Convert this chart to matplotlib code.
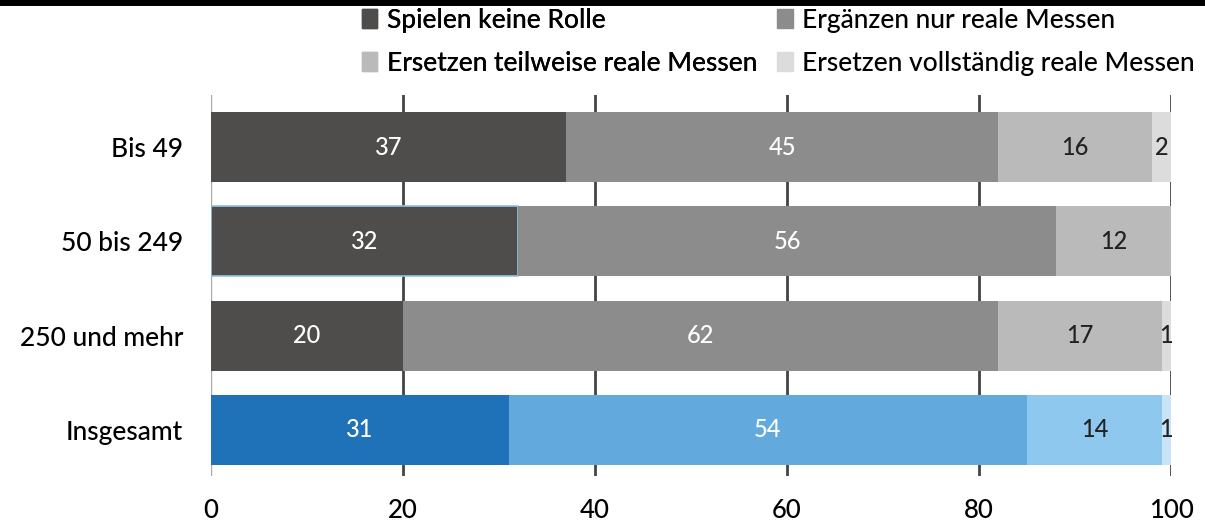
import numpy as np
import matplotlib.pyplot as plt
from matplotlib.patches import Patch

plt.rcParams['font.family'] = ['Lato', 'DejaVu Sans']

groups = ["Bis 49", "50 bis 249", "250 und mehr", "Insgesamt"]
series = ["Spielen keine Rolle", "Ergänzen nur reale Messen",
          "Ersetzen teilweise reale Messen", "Ersetzen vollständig reale Messen"]
keine_rolle = [37, 32, 20, 31]
ergaenzen = [45, 56, 62, 54]
teilweise = [16, 12, 17, 14]
vollstaendig = [2, 0, 1, 1]

grey_colors = ["#4f4c4c", "#8c8c8c", "#bababa", "#dcdcdc"]
blue_colors = ["#1f72b8", "#62aadd", "#8fc8ee", "#c8e4f6"]
text_colors = ["white", "white", "#222222", "#222222"]

fig = plt.figure(figsize=(12.05, 5.29), dpi=100)
ax = fig.add_axes([0.175, 0.100, 0.797, 0.720])

values = [keine_rolle, ergaenzen, teilweise, vollstaendig]
y = np.arange(len(groups))
left = np.zeros(len(groups))
for s, vals in enumerate(values):
    vals = np.array(vals, dtype=float)
    cols = [blue_colors[s] if g == "Insgesamt" else grey_colors[s] for g in groups]
    bars = ax.barh(y, vals, left=left, height=0.74, color=cols, zorder=2)
    if s == 0:
        bars[1].set_edgecolor("#8fc3e8")
        bars[1].set_linewidth(1.2)
    for i, v in enumerate(vals):
        if v > 0:
            ax.text(left[i] + v / 2, y[i], "%d" % v, ha="center", va="center",
                    color=text_colors[s], fontsize=17, fontweight="medium", zorder=3)
    left += vals

ax.set_xlim(0, 100)
ax.set_ylim(3.49, -0.55)
ax.set_xticks([0, 20, 40, 60, 80, 100])
ax.set_yticks(y)
ax.set_yticklabels(groups, fontsize=19, fontweight="medium")
ax.tick_params(axis="x", length=0, pad=16, labelsize=18.5)
ax.tick_params(axis="y", length=0, pad=20)
for lab in ax.get_xticklabels():
    lab.set_fontweight("medium")
for s in ax.spines.values():
    s.set_visible(False)
for xv in [20, 40, 60, 80, 100]:
    ax.axvline(xv, color="#444444", lw=2, zorder=1)
ax.axvline(0, color="#aaaaaa", lw=1, zorder=1)

handles = [Patch(color=c) for c in grey_colors]
leg_kw = dict(loc="upper left", frameon=False, prop={"size": 19, "weight": "medium"},
              handlelength=0.6, handleheight=0.7, handletextpad=0.35,
              labelspacing=0.68, borderpad=0, borderaxespad=0)
leg1 = fig.legend([handles[0], handles[2]], [series[0], series[2]],
                  bbox_to_anchor=(0.300, 0.985), **leg_kw)
fig.add_artist(leg1)
fig.legend([handles[1], handles[3]], [series[1], series[3]],
           bbox_to_anchor=(0.645, 0.985), **leg_kw)

fig.add_artist(plt.Line2D([0, 1], [0.997, 0.997], color="black", lw=5,
                          transform=fig.transFigure))

fig.savefig("out.png", dpi=100)
